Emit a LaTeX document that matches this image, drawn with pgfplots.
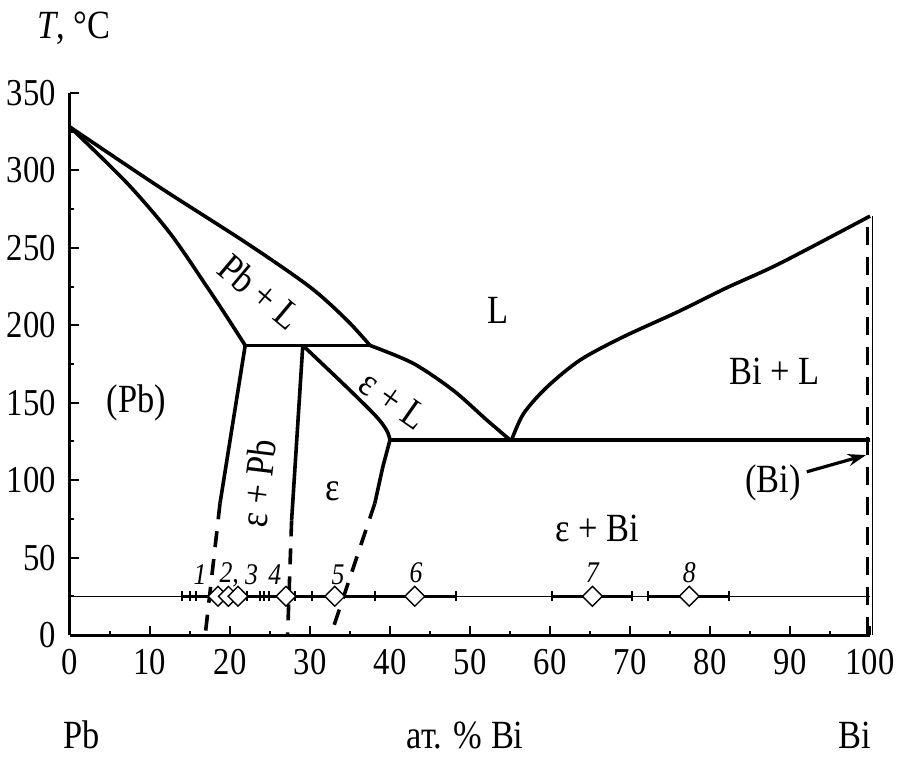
\documentclass[border=0pt]{standalone}
\usepackage{fontspec}
\setmainfont{Liberation Serif}[FakeStretch=0.86]
\usepackage{pgfplots}
\pgfplotsset{compat=1.18}
\usetikzlibrary{arrows.meta}
\begin{document}
\begin{tikzpicture}[x=1pt,y=1pt]
\useasboundingbox (-35,-63) rectangle (417.5,317.5);
\begin{axis}[
  at={(0,0)}, anchor=south west,
  scale only axis, width=400pt, height=271pt,
  xmin=0, xmax=100, ymin=0, ymax=350,
  axis x line*=bottom, axis y line*=left,
  axis line style={line width=1.5pt, -},
  xtick={0,10,...,100}, ytick={0,50,...,350},
  minor x tick num=1, minor y tick num=1,
  tick align=inside,
  major tick length=4.5pt, minor tick length=2pt,
  every tick/.style={line width=1pt, black},
  ticklabel style={font=\fontsize{19}{20}\selectfont},
  xticklabel style={yshift=-3.5pt},
  yticklabel style={xshift=-3.5pt},
  /pgf/number format/assume math mode=true,
  clip=false,
]
% Pb liquidus
\addplot[line width=1.8pt, smooth, tension=0.5] coordinates {(0,328) (11.25,289) (22.1,253) (30,224.7) (34.6,203.4) (37.5,187)};
% Pb solidus
\addplot[line width=1.8pt, smooth, tension=0.5] coordinates {(0,328) (7.1,292) (12.5,259.5) (17.1,225) (19.6,205.5) (21.9,187)};
% peritectic
\addplot[line width=1.8pt] coordinates {(21.9,187) (37.5,187)};
% Pb solvus
\addplot[line width=1.8pt] coordinates {(21.9,187) (18.75,85)};
\addplot[line width=1.8pt, dash pattern=on 8pt off 6pt] coordinates {(18.75,85) (16.9,0)};
% epsilon left boundary
\addplot[line width=1.8pt] coordinates {(29.1,187) (27.7,74)};
\addplot[line width=1.8pt, dash pattern=on 8pt off 6pt] coordinates {(27.7,74) (27.2,0)};
% epsilon solidus
\addplot[line width=1.8pt, smooth, tension=0.5] coordinates {(29.1,187) (34.6,160) (38.3,141) (39.6,132) (40,126)};
% epsilon right solvus
\addplot[line width=1.8pt] coordinates {(40,126) (39.1,108.5) (38.1,85)};
\addplot[line width=1.8pt, dash pattern=on 8pt off 6pt] coordinates {(38.1,85) (32.6,0)};
% epsilon liquidus
\addplot[line width=1.8pt, smooth, tension=0.5] coordinates {(37.5,187) (42.9,175.4) (47.9,158) (52.1,138.8) (55,126)};
% eutectic
\addplot[line width=1.8pt] coordinates {(40,126) (100,126)};
% Bi liquidus
\addplot[line width=1.8pt, smooth, tension=0.5] coordinates {(55.2,126) (56.7,143) (59.6,160) (63.75,177.5) (69.1,192.4) (75.9,208.5) (82,224) (88.75,240) (100,270.5)};
% Bi side
\addplot[line width=1.8pt, dash pattern=on 9pt off 6pt] coordinates {(99.7,0) (99.7,270.5)};
\addplot[line width=0.5pt] coordinates {(100.3,0) (100.3,270.5)};
% 25 C line
\addplot[line width=0.6pt] coordinates {(0,25) (100,25)};
% error bars
\addplot[line width=1.5pt, mark=|, mark size=2.6pt, mark options={line width=1pt}] coordinates {(14.0,25) (22.1,25)};
\addplot[line width=1.5pt, mark=|, mark size=2.6pt, mark options={line width=1pt}] coordinates {(15.0,25) (24.3,25)};
\addplot[line width=1.5pt, mark=|, mark size=2.6pt, mark options={line width=1pt}] coordinates {(15.7,25) (24.9,25)};
\addplot[line width=1.5pt, mark=|, mark size=2.6pt, mark options={line width=1pt}] coordinates {(23.75,25) (30.25,25)};
\addplot[line width=1.5pt, mark=|, mark size=2.6pt, mark options={line width=1pt}] coordinates {(28.1,25) (38.1,25)};
\addplot[line width=1.5pt, mark=|, mark size=2.6pt, mark options={line width=1pt}] coordinates {(38.1,25) (48.3,25)};
\addplot[line width=1.5pt, mark=|, mark size=2.6pt, mark options={line width=1pt}] coordinates {(60.3,25) (70.3,25)};
\addplot[line width=1.5pt, mark=|, mark size=2.6pt, mark options={line width=1pt}] coordinates {(72.3,25) (82.4,25)};
% points
\addplot[only marks, mark=square*, mark size=3.5pt, mark options={rotate=45, fill=white, draw=black, line width=0.7pt}] coordinates {(18.5,25) (19.8,25) (21.0,25) (27.0,25) (33.1,25) (43.1,25) (65.3,25) (77.4,25)};
% point labels
\begin{scope}[font=\fontsize{15}{16}\selectfont\itshape]
\node at (axis cs:16.25,39) {1};
\node at (axis cs:19.9,39) {2,};
\node at (axis cs:22.7,39) {3};
\node at (axis cs:25.6,39) {4};
\node at (axis cs:33.5,39) {5};
\node at (axis cs:43.25,40) {6};
\node at (axis cs:65.3,40) {7};
\node at (axis cs:77.4,40) {8};
\end{scope}
% region labels
\begin{scope}[font=\fontsize{20}{22}\selectfont]
\node[rotate=-40] at (axis cs:23.75,221.6) {Pb + L};
\node at (axis cs:53.5,209.8) {L};
\node[rotate=-35] at (axis cs:40.4,151.7) {ε + L};
\node at (axis cs:88.1,170) {Bi + L};
\node at (axis cs:8.3,149.6) {(Pb)};
\node[rotate=83] at (axis cs:23.5,97.9) {ε + Pb};
\node at (axis cs:32.9,92.5) {ε};
\node at (axis cs:65.9,69) {ε + Bi};
\node at (axis cs:87.9,98) {(Bi)};
\node[anchor=west] at (axis cs:-5,392) {\textit{T}, °C};
\node at (axis cs:1.5,-64.6) {Pb};
\node at (axis cs:49.4,-64.6) {ат. \% Bi};
\node at (axis cs:98.1,-64.6) {Bi};
\end{scope}
\draw[line width=1.6pt, -{Stealth[length=9pt, width=6pt]}] (axis cs:92.1,105.4) -- (axis cs:99.5,116.2);
\end{axis}
\end{tikzpicture}
\end{document}
